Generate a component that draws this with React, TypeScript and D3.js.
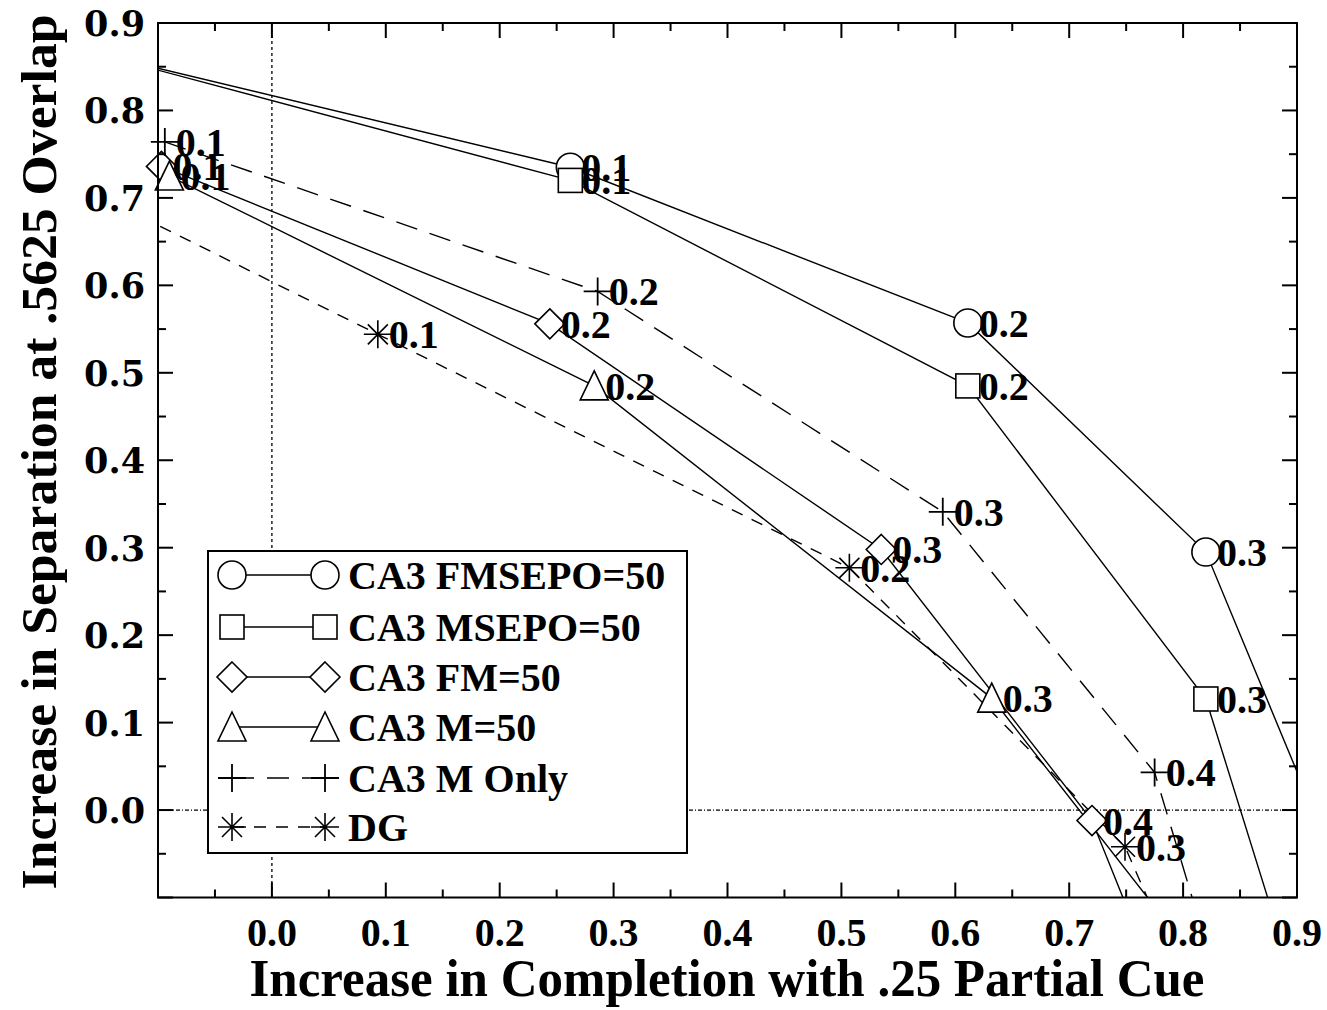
import React from 'react';
import * as d3 from 'd3';

const W = 1327;
const H = 1010;

// Each series: x = increase in completion, y = increase in separation,
// tag = parameter value printed next to each point.
const fmsepoX = [-0.16, 0.262, 0.611, 0.820, 0.950];
const fmsepoY = [0.867, 0.735, 0.557, 0.295, -0.113];
const fmsepoTags = ['0.0', '0.1', '0.2', '0.3', '0.4'];

const msepoX = [-0.16, 0.262, 0.611, 0.820, 0.890];
const msepoY = [0.867, 0.720, 0.485, 0.127, -0.166];
const msepoTags = ['0.0', '0.1', '0.2', '0.3', '0.4'];

const fmX = [-0.097, 0.244, 0.535, 0.720, 0.762];
const fmY = [0.736, 0.556, 0.298, -0.012, -0.148];
const fmTags = ['0.1', '0.2', '0.3', '0.4', '0.5'];

const mX = [-0.090, 0.283, 0.632, 0.797];
const mY = [0.725, 0.485, 0.128, -0.147];
const mTags = ['0.1', '0.2', '0.3', '0.4'];

const mOnlyX = [-0.094, 0.286, 0.589, 0.775, 0.819];
const mOnlyY = [0.764, 0.593, 0.341, 0.043, -0.148];
const mOnlyTags = ['0.1', '0.2', '0.3', '0.4', '0.5'];

const dgX = [-0.15, 0.093, 0.507, 0.749, 0.784];
const dgY = [0.701, 0.544, 0.277, -0.042, -0.146];
const dgTags = ['0.0', '0.1', '0.2', '0.3', '0.4'];

const xTickLabels = ['0.0', '0.1', '0.2', '0.3', '0.4', '0.5', '0.6', '0.7', '0.8', '0.9'];
const yTickLabels = ['0.0', '0.1', '0.2', '0.3', '0.4', '0.5', '0.6', '0.7', '0.8', '0.9'];

type Sym = 'circle' | 'square' | 'diamond' | 'triangle' | 'plus' | 'star';

interface Series {
  name: string;
  xs: number[];
  ys: number[];
  tags: string[];
  sym: Sym;
  dash: string | null;
}

const series: Series[] = [
  { name: 'CA3 FMSEPO=50', xs: fmsepoX, ys: fmsepoY, tags: fmsepoTags, sym: 'circle', dash: null },
  { name: 'CA3 MSEPO=50', xs: msepoX, ys: msepoY, tags: msepoTags, sym: 'square', dash: null },
  { name: 'CA3 FM=50', xs: fmX, ys: fmY, tags: fmTags, sym: 'diamond', dash: null },
  { name: 'CA3 M=50', xs: mX, ys: mY, tags: mTags, sym: 'triangle', dash: null },
  { name: 'CA3 M Only', xs: mOnlyX, ys: mOnlyY, tags: mOnlyTags, sym: 'plus', dash: '22,13' },
  { name: 'DG', xs: dgX, ys: dgY, tags: dgTags, sym: 'star', dash: '12,10' },
];

const SERIF = '"Liberation Serif", "Times New Roman", serif';
const WIDE_SERIF = '"DejaVu Serif", serif';

const left = 158;
const right = 1297;
const top = 23;
const bottom = 897.5;

const x = d3.scaleLinear().domain([-0.1, 0.9]).range([left, right]);
const y = d3.scaleLinear().domain([-0.1, 0.9]).range([bottom, top]);

function Marker({ sym, cx, cy }: { sym: Sym; cx: number; cy: number }) {
  const common = { fill: 'white', stroke: 'black', strokeWidth: 1.6 };
  switch (sym) {
    case 'circle':
      return <circle cx={cx} cy={cy} r={14} {...common} />;
    case 'square':
      return <rect x={cx - 12} y={cy - 12} width={24} height={24} {...common} />;
    case 'diamond':
      return <path d={`M${cx},${cy - 15}L${cx + 15},${cy}L${cx},${cy + 15}L${cx - 15},${cy}Z`} {...common} />;
    case 'triangle':
      return <path d={`M${cx},${cy - 15}L${cx + 14},${cy + 14}L${cx - 14},${cy + 14}Z`} {...common} />;
    case 'plus':
      return (
        <path d={`M${cx - 14},${cy}H${cx + 14}M${cx},${cy - 14}V${cy + 14}`} stroke="black" strokeWidth={1.8} fill="none" />
      );
    case 'star':
      return (
        <path
          d={`M${cx - 14},${cy}H${cx + 14}M${cx},${cy - 14}V${cy + 14}M${cx - 10},${cy - 10}L${cx + 10},${cy + 10}M${cx - 10},${cy + 10}L${cx + 10},${cy - 10}`}
          stroke="black"
          strokeWidth={1.6}
          fill="none"
        />
      );
  }
  return null;
}

const inDomain = (vx: number, vy: number) => vx >= -0.1 - 1e-9 && vx <= 0.9 && vy >= -0.1 && vy <= 0.9;

export default function App() {
  const line = d3
    .line<[number, number]>()
    .x((d) => x(d[0]))
    .y((d) => y(d[1]));

  const majorX = x.ticks(10);
  const minorX = x.ticks(20).filter((t) => !majorX.some((m) => Math.abs(m - t) < 1e-9));
  const majorY = y.ticks(10);
  const minorY = y.ticks(20).filter((t) => !majorY.some((m) => Math.abs(m - t) < 1e-9));
  const majLen = 15;
  const minLen = 8;

  const legendRows = [575, 627, 677, 727, 778, 827];

  return (
    <svg width={W} height={H} style={{ position: 'absolute', left: 0, top: 0, background: 'white' }}>
      <defs>
        <clipPath id="plotClip">
          <rect x={left} y={top} width={right - left} height={bottom - top} />
        </clipPath>
      </defs>
      <rect x={0} y={0} width={W} height={H} fill="white" />

      {/* zero reference lines */}
      <line x1={x(0)} x2={x(0)} y1={top} y2={bottom} stroke="black" strokeWidth={1.3} strokeDasharray="3,3" />
      <line x1={left} x2={right} y1={y(0)} y2={y(0)} stroke="black" strokeWidth={1.3} strokeDasharray="4,2,1,2" />

      {/* series lines */}
      <g clipPath="url(#plotClip)">
        {series.map((s) => (
          <path
            key={s.name}
            d={line(s.xs.map((v, i) => [v, s.ys[i]] as [number, number])) || ''}
            fill="none"
            stroke="black"
            strokeWidth={1.4}
            strokeDasharray={s.dash || undefined}
          />
        ))}
      </g>

      {/* markers */}
      {series.map((s) =>
        s.xs.map((v, i) =>
          inDomain(v, s.ys[i]) ? <Marker key={s.name + i} sym={s.sym} cx={x(v)} cy={y(s.ys[i])} /> : null
        )
      )}

      {/* point labels */}
      {series.map((s) =>
        s.xs.map((v, i) =>
          inDomain(v, s.ys[i]) ? (
            <text
              key={'t' + s.name + i}
              x={x(v) + 11}
              y={y(s.ys[i]) + 14}
              fontFamily={SERIF}
              fontWeight="bold"
              fontSize={40}
              fill="black"
            >
              {s.tags[i]}
            </text>
          ) : null
        )
      )}

      {/* frame */}
      <rect x={left} y={top} width={right - left} height={bottom - top} fill="none" stroke="black" strokeWidth={2} />

      {/* ticks on all four sides, pointing inward */}
      <g stroke="black" strokeWidth={2}>
        {majorX.map((t) => (
          <g key={'mx' + t}>
            <line x1={x(t)} x2={x(t)} y1={bottom} y2={bottom - majLen} />
            <line x1={x(t)} x2={x(t)} y1={top} y2={top + majLen} />
          </g>
        ))}
        {minorX.map((t) => (
          <g key={'nx' + t}>
            <line x1={x(t)} x2={x(t)} y1={bottom} y2={bottom - minLen} />
            <line x1={x(t)} x2={x(t)} y1={top} y2={top + minLen} />
          </g>
        ))}
        {majorY.map((t) => (
          <g key={'my' + t}>
            <line x1={left} x2={left + majLen} y1={y(t)} y2={y(t)} />
            <line x1={right} x2={right - majLen} y1={y(t)} y2={y(t)} />
          </g>
        ))}
        {minorY.map((t) => (
          <g key={'ny' + t}>
            <line x1={left} x2={left + minLen} y1={y(t)} y2={y(t)} />
            <line x1={right} x2={right - minLen} y1={y(t)} y2={y(t)} />
          </g>
        ))}
      </g>

      {/* tick labels */}
      {xTickLabels.map((l) => (
        <text key={'xl' + l} x={x(+l)} y={946} textAnchor="middle" fontFamily={SERIF} fontWeight="bold" fontSize={40}>
          {l}
        </text>
      ))}
      {yTickLabels.map((l) => (
        <text key={'yl' + l} x={145} y={y(+l) + 13} textAnchor="end" fontFamily={WIDE_SERIF} fontWeight="bold" fontSize={35}>
          {l}
        </text>
      ))}

      {/* axis titles */}
      <text
        x={727}
        y={996}
        textAnchor="middle"
        fontFamily={SERIF}
        fontWeight="bold"
        fontSize={52}
        textLength={955}
        lengthAdjust="spacingAndGlyphs"
      >
        Increase in Completion with .25 Partial Cue
      </text>
      <text
        transform="translate(56,452) rotate(-90)"
        textAnchor="middle"
        fontFamily={SERIF}
        fontWeight="bold"
        fontSize={50}
        textLength={875}
        lengthAdjust="spacingAndGlyphs"
      >
        Increase in Separation at .5625 Overlap
      </text>

      {/* legend */}
      <rect x={208} y={551} width={479} height={302} fill="white" stroke="black" strokeWidth={2} />
      {series.map((s, i) => {
        const cy = legendRows[i];
        return (
          <g key={'lg' + s.name}>
            <line x1={232} x2={325} y1={cy} y2={cy} stroke="black" strokeWidth={1.4} strokeDasharray={s.dash || undefined} />
            <Marker sym={s.sym} cx={232} cy={cy} />
            <Marker sym={s.sym} cx={325} cy={cy} />
            <text x={348} y={cy + 14} fontFamily={SERIF} fontWeight="bold" fontSize={40}>
              {s.name}
            </text>
          </g>
        );
      })}
    </svg>
  );
}
